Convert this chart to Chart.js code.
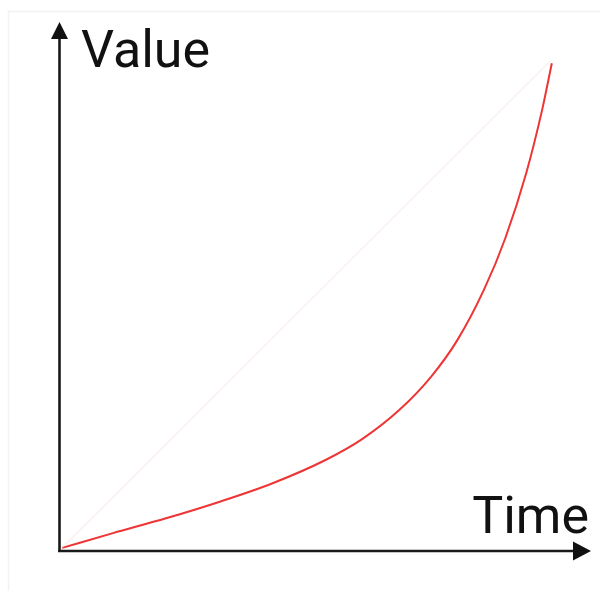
<!DOCTYPE html>
<html>
<head>
<meta charset="utf-8">
<script src="https://cdn.jsdelivr.net/npm/chart.js@4/dist/chart.umd.min.js"></script>
<style>
    html, body { margin: 0; padding: 0; background: #fff; }
    #wrap { position: relative; width: 600px; height: 591px; }
</style>
</head>
<body>
<div id="wrap"><canvas id="growthChart"></canvas></div>
<script>
// time on the x axis, value on the y axis (both 0..100)
const timeSteps = [0.4, 10, 20, 30, 40, 50, 57, 64, 70, 75, 80, 84, 88, 91, 92.8];
const growthValues = [0.4, 3.2, 6.0, 9.1, 12.6, 17.0, 21.0, 26.5, 32.8, 39.8, 49.3, 59.0, 71.5, 83.5, 92.2];

// straight reference line, barely visible
const linearTimes = [0.4, 92.5];
const linearValues = [0.4, 92.6];

const axisTitles = { x: "Time", y: "Value" };

// arrowed axes and their titles, drawn around the chart area
const arrowAxes = {
    id: "arrowAxes",
    beforeDraw(chart) {
        const ctx = chart.ctx;
        ctx.save();
        ctx.strokeStyle = "#f2f2f2";
        ctx.lineWidth = 1.5;
        ctx.beginPath();
        ctx.moveTo(8.5, 600);
        ctx.lineTo(8.5, 11.5);
        ctx.lineTo(600, 11.5);
        ctx.stroke();
        ctx.restore();
    },
    beforeDatasetsDraw(chart) {
        const { ctx, chartArea } = chart;
        const { left, right, top, bottom } = chartArea;
        ctx.save();
        ctx.strokeStyle = "#1a1a1a";
        ctx.fillStyle = "#111";
        ctx.lineWidth = 2.6;

        ctx.beginPath();
        ctx.moveTo(left - 0.5, bottom + 1);
        ctx.lineTo(left - 0.5, top + 10);
        ctx.moveTo(left - 2, bottom + 1);
        ctx.lineTo(right - 10, bottom + 1);
        ctx.stroke();

        // arrow heads
        ctx.beginPath();
        ctx.moveTo(left - 0.5, top);
        ctx.lineTo(left - 9, top + 17);
        ctx.lineTo(left + 8, top + 17);
        ctx.closePath();
        ctx.fill();

        ctx.beginPath();
        ctx.moveTo(right + 1, bottom + 1);
        ctx.lineTo(right - 17, bottom - 8.5);
        ctx.lineTo(right - 17, bottom + 10.5);
        ctx.closePath();
        ctx.fill();

        ctx.font = "52px Roboto";
        ctx.textBaseline = "alphabetic";
        ctx.textAlign = "left";
        ctx.fillText(axisTitles.y, left + 21, top + 45);
        ctx.textAlign = "right";
        ctx.fillText(axisTitles.x, right - 1, bottom - 17);
        ctx.restore();
    }
};

const canvas = document.getElementById("growthChart");

new Chart(canvas, {
    type: "line",
    data: {
        datasets: [
            {
                label: "linear",
                data: linearTimes.map((t, i) => ({ x: t, y: linearValues[i] })),
                borderColor: "rgba(245, 215, 215, 0.35)",
                borderWidth: 1.5,
                pointRadius: 0,
                fill: false,
            },
            {
                label: "growth",
                data: timeSteps.map((t, i) => ({ x: t, y: growthValues[i] })),
                borderColor: "rgb(238, 52, 52)",
                borderWidth: 2,
                pointRadius: 0,
                cubicInterpolationMode: "monotone",
                fill: false,
            }
        ],
    },
    options: {
        responsive: true,
        maintainAspectRatio: false,
        animation: false,
        layout: {
            padding: { left: 60, right: 10, top: 22, bottom: 41 },
        },
        plugins: {
            legend: { display: false },
            tooltip: { enabled: false },
        },
        scales: {
            x: { type: "linear", min: 0, max: 100, display: false },
            y: { type: "linear", min: 0, max: 100, display: false },
        },
    },
    plugins: [arrowAxes],
});
</script>
</body>
</html>
